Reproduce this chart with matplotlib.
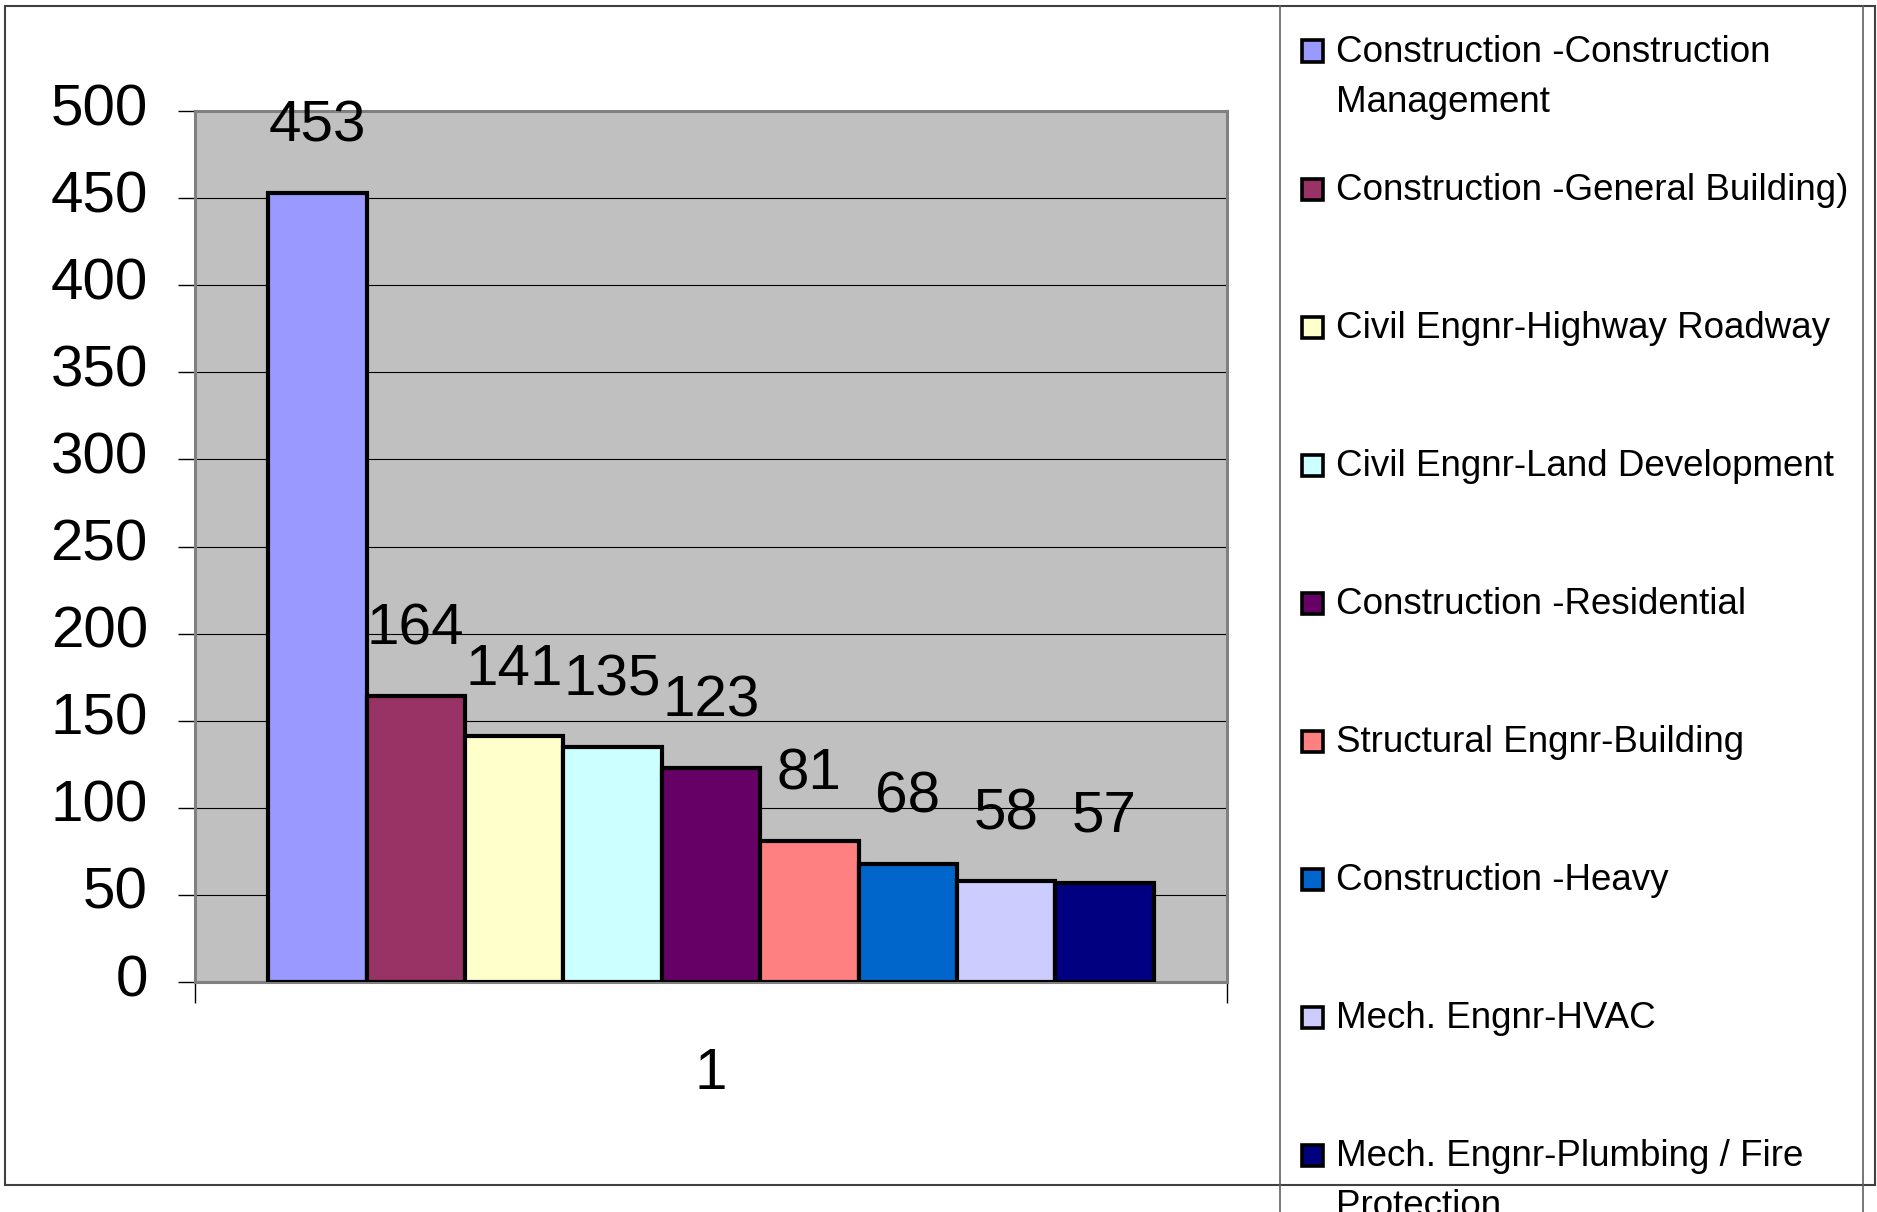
import matplotlib
matplotlib.use("Agg")
import matplotlib.pyplot as plt
import matplotlib.transforms as mtransforms
from matplotlib.patches import Rectangle
from matplotlib.lines import Line2D

# данные с картинки
categories = [
    "Construction -Construction\nManagement",
    "Construction -General Building)",
    "Civil Engnr-Highway Roadway",
    "Civil Engnr-Land Development",
    "Construction -Residential",
    "Structural Engnr-Building",
    "Construction -Heavy",
    "Mech. Engnr-HVAC",
    "Mech. Engnr-Plumbing / Fire\nProtection",
]
values = [453, 164, 141, 135, 123, 81, 68, 58, 57]
colors = ["#9999FF", "#993366", "#FFFFCC", "#CCFFFF", "#660066",
          "#FF8080", "#0066CC", "#CCCCFF", "#000080"]
group_label = "1"
yticks = list(range(0, 501, 50))

plt.rcParams['font.family'] = ['Liberation Sans', 'DejaVu Sans']

W, H = 1877, 1212
fig = plt.figure(figsize=(W / 100, H / 100), dpi=100)
fig.patch.set_facecolor('white')


def fx(px):
    return px / W


def fy(py):
    # py считается от верхнего края
    return 1 - py / H


# область построения (серая стена как в Excel)
ax = fig.add_axes([fx(195), fy(982), (1227 - 195) / W, (982 - 111) / H])
ax.set_facecolor('#C0C0C0')

n = len(values)
bw = 98.4 / 1032
xs = [1 + (i - (n - 1) / 2) * bw for i in range(n)]
ax.bar(xs, values, width=bw, color=colors, edgecolor='black',
       linewidth=3.0, zorder=3)

for x, v in zip(xs, values):
    ax.annotate(str(v), (x, v), xytext=(0, 37), textcoords='offset points',
                ha='center', va='baseline', fontsize=42,
                annotation_clip=False, zorder=5)

ax.set_xlim(0.5, 1.5)
ax.set_ylim(0, 500)
ax.set_yticks(yticks)
ax.tick_params(axis='y', length=12, width=1, color='black', pad=22, labelsize=42)
ax.yaxis.grid(True, color='black', linewidth=0.8)
ax.set_axisbelow(True)

ax.set_xticks([1])
ax.set_xticklabels([group_label])
ax.tick_params(axis='x', which='major', length=0, pad=47, labelsize=42)
ax.set_xticks([0.5, 1.5], minor=True)
ax.tick_params(axis='x', which='minor', length=15, width=1, color='black')

for s in ax.spines.values():
    s.set_color('#808080')
    s.set_linewidth(2.2)

offset = mtransforms.ScaledTranslation(0, 5 / 72, fig.dpi_scale_trans)
for lab in ax.get_yticklabels():
    lab.set_transform(lab.get_transform() + offset)

# внешняя рамка диаграммы
fig.add_artist(Rectangle((fx(5), fy(1185)), (1875 - 5) / W, (1185 - 6) / H,
                         transform=fig.transFigure, fill=False,
                         edgecolor='#404040', linewidth=1.5))

# рамка легенды (вылезает за низ картинки)
for lx in (1280, 1863):
    fig.add_artist(Line2D([fx(lx), fx(lx)], [fy(6), fy(H + 5)],
                          transform=fig.transFigure, color='#606060', linewidth=1.2))

# легенда вручную: у Excel все пункты на одинаковом шаге
base0, step, line_step = 61.7, 138.1, 50
for i, (name, col) in enumerate(zip(categories, colors)):
    base = base0 + i * step
    sq = 21
    fig.add_artist(Rectangle((fx(1312 - sq / 2), fy(base - 10.7 + sq / 2)), sq / W, sq / H,
                             transform=fig.transFigure, facecolor=col,
                             edgecolor='black', linewidth=2.6))
    for k, line in enumerate(name.split("\n")):
        fig.text(fx(1336), fy(base + k * line_step), line, fontsize=26.5,
                 ha='left', va='baseline')

plt.savefig('out.png', dpi=100)
